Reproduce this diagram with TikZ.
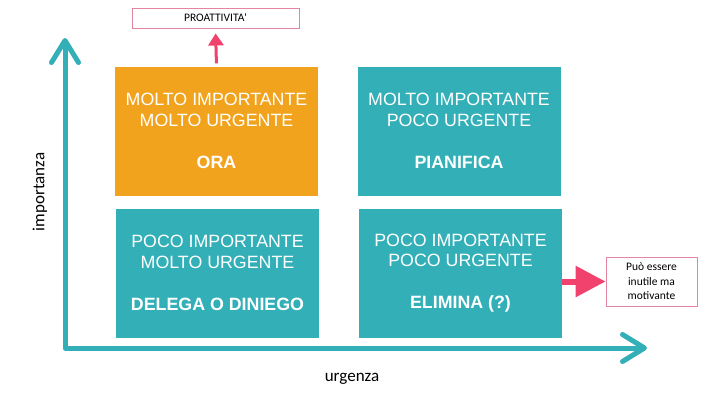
\documentclass[tikz,border=0pt]{standalone}
\usepackage{fontspec}
\setmainfont{Liberation Sans}
\newfontfamily\calibri{Carlito}
\usetikzlibrary{arrows.meta}
\definecolor{teal}{HTML}{33AFB8}
\definecolor{ambra}{HTML}{F1A31D}
\definecolor{rosa}{HTML}{F0426C}
\definecolor{rosabordo}{HTML}{E4869F}
\tikzset{
  quadrante/.style={fill=teal, text=white, inner sep=0pt, minimum width=203bp, minimum height=129bp,
    align=center, font=\fontsize{17.8bp}{20.5bp}\selectfont},
  nota/.style={draw=rosabordo, line width=0.9bp, inner sep=0pt, align=center, font=\calibri},
  asse/.style={teal, line width=5bp, line cap=round, line join=round},
  freccia/.style={rosa, -{Triangle[length=12bp,width=15bp]}, line width=3bp},
}
\begin{document}
\begin{tikzpicture}[x=1bp, y=-1bp]
  \useasboundingbox (0,0) rectangle (720,405);
  % quadranti
  \node[quadrante, fill=ambra] (ora) at (216.5,131) {MOLTO IMPORTANTE\\MOLTO URGENTE\\[21.5bp]\textbf{ORA}};
  \node[quadrante] (pianifica) at (459,131) {MOLTO IMPORTANTE\\POCO URGENTE\\[21.5bp]\textbf{PIANIFICA}};
  \node[quadrante] (delega) at (217.5,273) {POCO IMPORTANTE\\MOLTO URGENTE\\[21.5bp]\textbf{DELEGA O DINIEGO}};
  \node[quadrante] (elimina) at (460.5,273) {POCO IMPORTANTE\\POCO URGENTE\\[21.5bp]\textbf{ELIMINA (?)}};
  % assi
  \coordinate (o) at (65,348);
  \coordinate (ymax) at (65,38);
  \coordinate (xmax) at (647,348);
  \draw[asse, {Straight Barb[length=22bp,width=27bp,round]}-{Straight Barb[length=22bp,width=27bp,round]}] (ymax) -- (o) -- (xmax);
  \node[font=\calibri\fontsize{17bp}{20bp}\selectfont, rotate=90] (importanza) at (40,192) {importanza};
  \node[font=\calibri\fontsize{17bp}{20bp}\selectfont] (urgenza) at (352,379) {urgenza};
  % note
  \node[nota, minimum width=167bp, minimum height=20bp, font=\calibri\fontsize{11.5bp}{13bp}\selectfont] (proatt) at (215.5,18) {PROATTIVITA'};
  \node[nota, minimum width=91bp, minimum height=49bp, font=\calibri\fontsize{11.5bp}{14.5bp}\selectfont] (motiv) at (651.5,281.5) {Può essere\\inutile ma\\motivante};
  \draw[freccia, shorten <=3bp, shorten >=5bp] (ora.north) -- (proatt.south);
  \draw[freccia, line width=6bp, -{Triangle[length=30bp,width=30bp]}] (elimina.east |- motiv.west) -- (motiv.west);
\end{tikzpicture}
\end{document}
